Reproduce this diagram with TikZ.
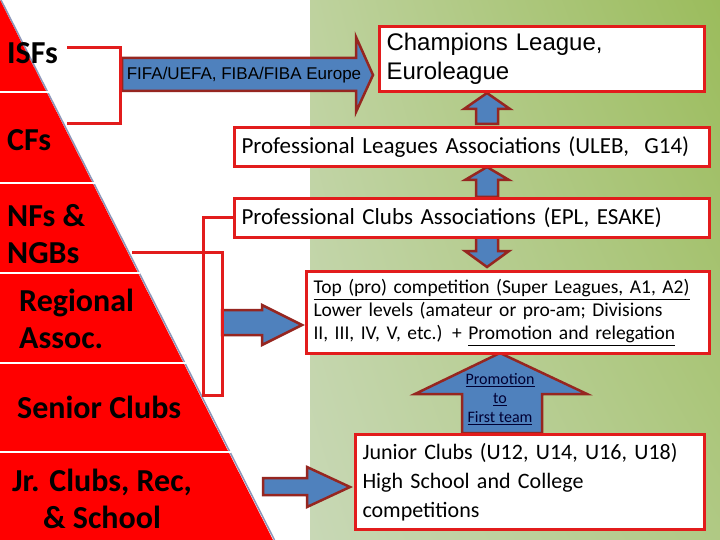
\documentclass[tikz,border=0pt]{standalone}
\usepackage{fontspec}
\setmainfont{Carlito}
\newfontfamily\arialfont{Liberation Sans}
\usetikzlibrary{calc,shadings}

\definecolor{pyrred}{RGB}{255,0,0}
\definecolor{boxred}{RGB}{226,28,28}
\definecolor{arrowblue}{RGB}{79,129,189}
\definecolor{arrowrim}{RGB}{150,38,32}
\definecolor{edgegrey}{RGB}{140,150,185}
\definecolor{greenUL}{RGB}{190,210,158}
\definecolor{greenUR}{RGB}{155,188,92}
\definecolor{greenLL}{RGB}{200,216,182}
\definecolor{greenLR}{RGB}{176,201,132}

\begin{document}
\begin{tikzpicture}[x=1pt,y=-1pt,
  level/.style={font=\bfseries\fontsize{32}{37}\selectfont,anchor=west,align=left,inner sep=1pt},
  box/.style={draw=boxred,line width=3pt,fill=white,anchor=north west,align=left,inner xsep=7pt,inner ysep=0pt},
  blockarrow/.style={fill=arrowblue,draw=arrowrim,line width=2.5pt,line join=miter},
  link/.style={draw=boxred,line width=3pt}]
  \useasboundingbox (0,0) rectangle (720,540);
  % background
  \fill[white] (0,0) rectangle (310,540);
  \shade[upper left=greenUL,upper right=greenUR,lower left=greenLL,lower right=greenLR]
    (310,0) rectangle (720,540);
  % pyramid
  \draw[edgegrey,line width=1.5pt] (1,0) -- (274.5,540);
  \fill[pyrred] (0,0) -- (273,540) -- (0,540) -- cycle;
  \foreach \y in {92,183,273,363,452}
    \draw[white,line width=2.5pt] (0,\y) -- ({0.5056*\y+2},\y);
  \node[level] (isf) at (6,53) {ISFs};
  \node[level] (cf) at (6,140) {CFs};
  \node[level] (nf) at (6,234.5) {NFs \&\\NGBs};
  \node[level] (reg) at (18,318.5) {Regional\\Assoc.};
  \node[level] (senior) at (16,407) {Senior Clubs};
  \node[level,anchor=center,align=center] (junior) at (102,498.5) {Jr. Clubs, Rec,\\\& School};

  % block arrows
  \draw[blockarrow] (122,58) -- (356,58) -- (356,37) -- (373,75) -- (356,112) -- (356,91) -- (122,91) -- cycle;
  \node[font=\arialfont\fontsize{17}{20}\selectfont] (fifa) at (244,75) {FIFA/UEFA, FIBA/FIBA Europe};
  \draw[blockarrow] (476,124) -- (476,109) -- (464,109) -- (487,93) -- (510,109) -- (498,109) -- (498,124) -- cycle;
  \draw[blockarrow] (476,197) -- (476,180) -- (465,180) -- (487,167) -- (509,180) -- (498,180) -- (498,197) -- cycle;
  \draw[blockarrow] (476,236) -- (476,251) -- (465,251) -- (487,267) -- (509,251) -- (498,251) -- (498,236) -- cycle;
  \draw[blockarrow] (462,433) -- (462,394) -- (415,394) -- (500,353) -- (587,394) -- (542,394) -- (542,433) -- cycle;
  \node[font=\fontsize{16}{19}\selectfont,align=center,text=black!80!blue] (promo) at (500,399)
    {\underline{Promotion}\\\underline{to}\\\underline{First team}};
  \draw[blockarrow] (222,310) -- (262,310) -- (262,305) -- (302,325) -- (262,345) -- (262,335) -- (222,335) -- cycle;
  \draw[blockarrow] (263,478) -- (307,478) -- (307,467) -- (350,487) -- (307,507) -- (307,495) -- (263,495) -- cycle;

  % boxes
  \node[box,minimum width=325,minimum height=65,text width=311,font=\arialfont\fontsize{24}{29}\selectfont]
    (champ) at (378,25) {Champions League,\\Euroleague};
  \node[box,minimum width=475,minimum height=39,text width=461,font=\fontsize{23}{28}\selectfont]
    (leagues) at (233,126) {Professional Leagues Associations (ULEB,\ \ G14)};
  \node[box,minimum width=475,minimum height=39,text width=461,font=\fontsize{23}{28}\selectfont]
    (clubs) at (233,197) {Professional Clubs Associations (EPL, ESAKE)};
  \node[box,minimum width=403,minimum height=82,text width=389,font=\fontsize{19.5}{23}\selectfont]
    (top) at (305,270) {\underline{Top (pro) competition (Super Leagues, A1, A2)}\\Lower levels (amateur or pro-am; Divisions\\II, III, IV, V, etc.) + \underline{Promotion and relegation}};
  \node[box,minimum width=349,minimum height=95,text width=335,font=\fontsize{22}{29}\selectfont]
    (jun) at (354,433) {Junior Clubs (U12, U14, U16, U18)\\High School and College\\competitions};

  % brackets
  \coordinate (isfend) at (67,48);
  \coordinate (cfend) at (67,124);
  \coordinate (ngbend) at (132,252);
  \draw[link] (isfend) -| (120,124) -- (cfend);
  \draw[link] (clubs.west) -| (203,395) -| (222,252) -- (ngbend);
\end{tikzpicture}
\end{document}
